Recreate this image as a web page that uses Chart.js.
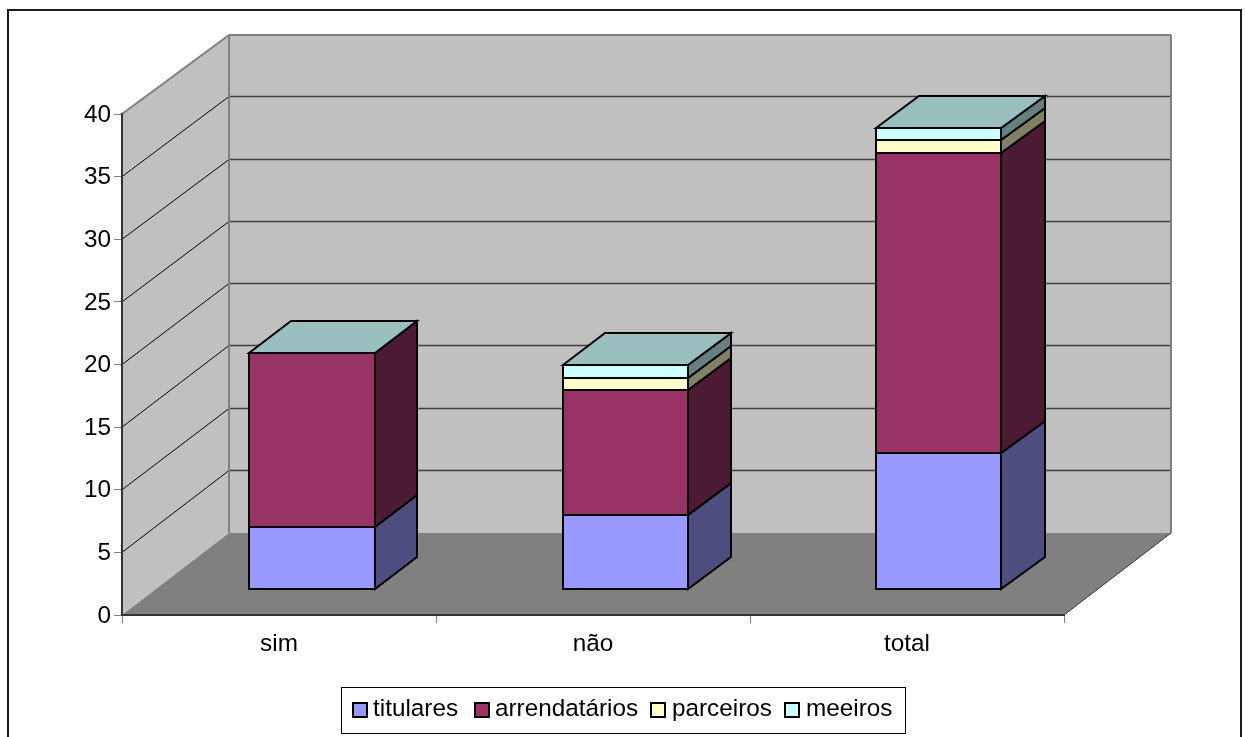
<!DOCTYPE html>
<html>
<head>
<meta charset="utf-8">
<title>Gráfico</title>
<script src="https://cdn.jsdelivr.net/npm/chart.js@4/dist/chart.umd.js"></script>
<style>
  html, body { margin: 0; padding: 0; background: #fff; }
  #wrap { width: 1245px; height: 737px; }
</style>
</head>
<body>
<div id="wrap"><canvas id="chart"></canvas></div>
<script>
const categories = ['sim', 'não', 'total'];
const titulares = [5, 6, 11];
const arrendatarios = [14, 10, 24];
const parceiros = [0, 1, 1];
const meeiros = [0, 1, 1];

// box depth: back wall is a little smaller than the front plane
const WALL_DX = 107, WALL_TOP = 35, WALL_BOTTOM = 533;
// column faces: front plane sits slightly inside the box
const FRONT_K = 0.9975, FRONT_TX = 33.7, FRONT_TY = -23.5;
const BACK_DX = 75, BACK_DY = -32;
const FONT_FAMILY = '"Liberation Sans", Arial, sans-serif';
const FONT_SIZE = 24.3;

const LEGEND_SWATCH_X = [353, 475, 651, 785];
const LEGEND_TEXT_X = [373, 495, 672, 806];

function shade(hex, k) {
  const n = parseInt(hex.slice(1), 16);
  const c = [n >> 16, (n >> 8) & 255, n & 255].map(v => Math.round(v * k));
  return 'rgb(' + c.join(',') + ')';
}

function poly(ctx, pts, fill, stroke, lw) {
  ctx.beginPath();
  pts.forEach((p, i) => i ? ctx.lineTo(p[0], p[1]) : ctx.moveTo(p[0], p[1]));
  ctx.closePath();
  if (fill) { ctx.fillStyle = fill; ctx.fill(); }
  if (stroke) { ctx.strokeStyle = stroke; ctx.lineWidth = lw; ctx.lineJoin = 'miter'; ctx.stroke(); }
}

function line(ctx, x1, y1, x2, y2, color, lw) {
  ctx.beginPath();
  ctx.moveTo(x1, y1);
  ctx.lineTo(x2, y2);
  ctx.strokeStyle = color;
  ctx.lineWidth = lw;
  ctx.stroke();
}

const frontX = x => Math.round(FRONT_K * x + FRONT_TX);
const frontY = y => Math.round(FRONT_K * y + FRONT_TY);
const backX = x => Math.round(x + BACK_DX);
const backY = y => frontY(y) + BACK_DY;

// white page, frame, side wall, back wall, floor and their grid lines
const boxPlugin = {
  id: 'box',
  beforeDraw(chart) {
    const { ctx, chartArea: a, scales } = chart;
    const yS = scales.y;
    const wl = a.left + WALL_DX, wr = a.right + WALL_DX;
    const wallY = y => WALL_TOP + (y - a.top) * (WALL_BOTTOM - WALL_TOP) / (a.bottom - a.top);
    ctx.save();
    ctx.fillStyle = '#fff';
    ctx.fillRect(0, 0, chart.width, chart.height);
    ctx.strokeStyle = '#1a1a1a';
    ctx.lineWidth = 2;
    ctx.strokeRect(8, 10, 1233, 800);

    poly(ctx, [[a.left, a.top], [wl, WALL_TOP], [wl, WALL_BOTTOM], [a.left, a.bottom]], '#c0c0c0');
    poly(ctx, [[wl, WALL_TOP], [wr, WALL_TOP], [wr, WALL_BOTTOM], [wl, WALL_BOTTOM]], '#c0c0c0');
    poly(ctx, [[a.left, a.bottom], [a.right, a.bottom], [wr, WALL_BOTTOM], [wl, WALL_BOTTOM]], '#808080');

    yS.ticks.forEach(t => {
      if (t.value === 0 || t.value === 40) return;
      const y = yS.getPixelForValue(t.value);
      const by = Math.round(wallY(y)) - 0.5;
      line(ctx, a.left, y, wl, by, '#000', 1);
      line(ctx, wl, by, wr, by, '#404040', 1.5);
    });

    // wall edges
    line(ctx, a.left, a.top, wl, WALL_TOP, '#808080', 2);
    line(ctx, wl, WALL_TOP, wr, WALL_TOP, '#808080', 2);
    line(ctx, wl, WALL_TOP, wl, WALL_BOTTOM, '#808080', 2);
    line(ctx, wr, WALL_TOP, wr, WALL_BOTTOM, '#808080', 2);
    line(ctx, a.right, a.bottom, wr, WALL_BOTTOM, '#333', 1);
    ctx.restore();
  },
  // columns are pushed back into the box, side faces go in first
  beforeDatasetsDraw(chart) {
    const { ctx } = chart;
    chart.data.datasets.forEach((ds, i) => {
      chart.getDatasetMeta(i).data.forEach(bar => {
        if (bar.base === bar.y) return;
        const r = bar.x + bar.width / 2;
        poly(ctx, [[frontX(r), frontY(bar.y)], [backX(r), backY(bar.y)], [backX(r), backY(bar.base)], [frontX(r), frontY(bar.base)]],
          shade(ds.backgroundColor, 0.5), '#000', 2);
      });
    });
    ctx.save();
    ctx.setTransform(FRONT_K, 0, 0, FRONT_K, FRONT_TX, FRONT_TY);
  },
  afterDatasetsDraw(chart) {
    const { ctx } = chart;
    ctx.restore();
    const last = chart.data.datasets.length - 1;
    chart.data.datasets.forEach((ds, i) => {
      chart.getDatasetMeta(i).data.forEach(bar => {
        const l = bar.x - bar.width / 2, r = bar.x + bar.width / 2;
        if (bar.base !== bar.y) {
          ctx.lineWidth = 2;
          ctx.strokeStyle = '#000';
          ctx.strokeRect(frontX(l), frontY(bar.y), frontX(r) - frontX(l), frontY(bar.base) - frontY(bar.y));
        }
        if (i === last) {
          poly(ctx, [[frontX(l), frontY(bar.y)], [backX(l), backY(bar.y)], [backX(r), backY(bar.y)], [frontX(r), frontY(bar.y)]],
            shade(ds.backgroundColor, 0.75), '#000', 2);
        }
      });
    });
  },
  // legend box
  afterDraw(chart) {
    const { ctx } = chart;
    ctx.save();
    ctx.fillStyle = '#fff';
    ctx.strokeStyle = '#000';
    ctx.lineWidth = 1;
    ctx.fillRect(341.5, 687.5, 564, 46);
    ctx.strokeRect(341.5, 687.5, 564, 46);
    ctx.font = FONT_SIZE + 'px ' + FONT_FAMILY;
    ctx.textBaseline = 'middle';
    chart.data.datasets.forEach((ds, i) => {
      ctx.fillStyle = ds.backgroundColor;
      ctx.lineWidth = 2;
      ctx.fillRect(LEGEND_SWATCH_X[i], 703, 14, 14);
      ctx.strokeRect(LEGEND_SWATCH_X[i], 703, 14, 14);
      ctx.fillStyle = '#000';
      ctx.fillText(ds.label, LEGEND_TEXT_X[i], 709);
    });
    ctx.restore();
  }
};

new Chart(document.getElementById('chart'), {
  type: 'bar',
  data: {
    labels: categories,
    datasets: [
      { label: 'titulares', data: titulares, backgroundColor: '#9999ff' },
      { label: 'arrendatários', data: arrendatarios, backgroundColor: '#993366' },
      { label: 'parceiros', data: parceiros, backgroundColor: '#ffffcc' },
      { label: 'meeiros', data: meeiros, backgroundColor: '#ccffff' }
    ]
  },
  options: {
    responsive: true,
    maintainAspectRatio: false,
    animation: false,
    layout: { padding: { left: 0, right: 181, top: 114, bottom: 0 } },
    datasets: { bar: { categoryPercentage: 1, barPercentage: 0.4, borderWidth: 0 } },
    plugins: { legend: { display: false }, tooltip: { enabled: false } },
    scales: {
      x: {
        stacked: true,
        afterFit: s => { s.height = 122; },
        border: { color: '#333', width: 2 },
        grid: { drawOnChartArea: false, color: '#808080', tickLength: 8 },
        ticks: { color: '#000', font: { family: FONT_FAMILY, size: FONT_SIZE }, padding: 7, maxRotation: 0 }
      },
      y: {
        stacked: true,
        min: 0,
        max: 40,
        afterFit: s => { s.width = 122; },
        border: { color: '#333', width: 2 },
        grid: { drawOnChartArea: false, color: '#808080', tickLength: 8 },
        ticks: { stepSize: 5, color: '#000', font: { family: FONT_FAMILY, size: FONT_SIZE }, padding: 3, labelOffset: 1 }
      }
    }
  },
  plugins: [boxPlugin]
});
</script>
</body>
</html>
